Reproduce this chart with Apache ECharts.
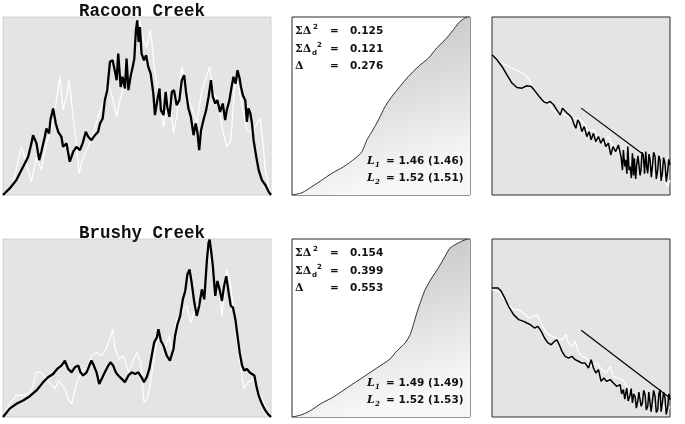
<!DOCTYPE html>
<html><head><meta charset="utf-8">
<script src="https://cdn.jsdelivr.net/npm/echarts@6/dist/echarts.min.js"></script>
<style>html,body{margin:0;padding:0;background:#fff}#c{width:685px;height:424px}</style>
</head><body><div id="c"></div>
<script>
var titles = ['Racoon Creek', 'Brushy Creek'];

var racoonProfileWhite = [[0,0],[3.7,6.5],[6.9,27.1],[8.7,17.8],[10.6,7.5],[12.5,21.5],[14.3,14],[16.2,29],[18.1,38.3],[20,53.3],[21.2,66.4],[22.4,47.7],[23.7,55.1],[24.7,64.5],[25.9,47.7],[27.2,30.8],[28.4,12.1],[29.9,21.5],[31.8,27.1],[33.7,34.6],[35.5,43.9],[36.8,49.5],[38,55.1],[39.3,62.6],[41.1,53.3],[42.4,43.9],[43.6,53.3],[45.5,62.6],[46.8,58.9],[48,66.4],[49.3,79.4],[50.1,90.7],[51.1,98.1],[52.4,86.9],[53.6,83.2],[54.9,92.5],[55.5,86.9],[56.4,72],[57.4,62.6],[58.6,51.4],[59.9,38.3],[61.1,47.7],[62.3,53.3],[63.6,34.6],[64.8,43.9],[66.7,72],[68,64.5],[69.2,53.3],[70.4,49.5],[72.3,40.2],[74.2,58.9],[75.8,66.4],[77.1,72],[78.6,57],[80.4,53.3],[81.7,38.3],[83.5,27.1],[85,30.8],[86.7,66.4],[87.9,60.7],[89.5,47.7],[91,36.4],[92.9,34.6],[94.8,40.2],[96,43],[97,29],[97.9,14],[99.1,4.7],[100,0]];
var racoonProfileBlack = [[0,0],[2.5,3.7],[5,8.4],[7.5,15.9],[9.4,21.5],[10.6,29],[11.2,33.6],[12.5,29],[13.5,19.6],[14.3,24.3],[15.6,32.7],[16.2,37.4],[17.2,34.6],[17.7,42.1],[18.7,48.6],[19.7,40.2],[20.6,35.5],[21.8,32.7],[22.4,27.1],[23.7,29],[24.9,18.7],[26.2,24.3],[27.4,27.1],[28.7,25.2],[29.7,29],[30.9,35.5],[31.8,32.7],[33,30.8],[34.3,33.6],[35.5,35.5],[36.2,40.2],[37.2,43],[38,53.3],[38.9,58.9],[39.9,74.8],[40.9,75.7],[41.8,69.2],[42.4,64.5],[43,79.4],[43.9,60.7],[44.6,66.4],[45.5,59.8],[46.1,76.6],[46.8,58.9],[47.6,66.4],[48.4,72],[49,76.6],[49.6,92.5],[50.1,98.1],[50.6,86],[51.1,94.4],[51.7,79.4],[52.6,75.7],[53.4,78.5],[54.2,72],[55.1,68.2],[56.1,57],[56.7,44.9],[57.6,53.3],[58.4,59.8],[58.9,47.7],[59.9,44.9],[60.7,57.9],[61.3,49.5],[62.1,43.9],[63,57.9],[63.8,58.9],[64.8,50.5],[65.8,53.3],[66.7,64.5],[67.6,67.3],[68.3,57.9],[69.2,48.6],[70.1,43.9],[71.1,33.6],[71.9,40.2],[72.6,34.6],[73.2,25.2],[73.9,36.4],[74.8,42.1],[75.8,47.7],[76.7,55.1],[77.6,64.5],[78.3,55.1],[79.2,51.4],[80,53.3],[81,46.7],[82,51.4],[82.9,42.1],[83.5,47.7],[84.5,53.3],[85.4,61.7],[86,66.4],[86.8,62.6],[87.5,70.1],[88.3,65.4],[88.8,60.7],[89.5,56.1],[90.4,53.3],[91,41.1],[91.6,48.6],[92.3,45.8],[92.9,40.2],[93.5,30.8],[94.5,21.5],[95.4,14],[96.6,8.4],[97.9,5.6],[99.1,1.9],[100,0]];

var brushyProfileWhite = [[0,0],[2.5,7.4],[5,12.1],[8.1,12.1],[10.6,14.9],[12.5,25.1],[14.3,25.1],[16.2,21.4],[18.1,17.7],[19.3,15.8],[20.9,20.5],[23.1,15.8],[24.3,10.2],[25.6,7.4],[26.8,14.9],[28.1,21.4],[29.9,27],[31.4,27],[33,34.5],[34.9,36.3],[36.8,34.5],[38.4,38.2],[39.9,43.8],[40.9,49.3],[41.8,38.2],[43.4,32.6],[44.9,34.5],[46.8,25.1],[48,28.9],[49.9,36.3],[51.4,30.7],[52.6,8.4],[53.6,9.3],[54.9,17.7],[56.1,30.7],[57.4,41.9],[58.6,45.6],[59.9,38.2],[61.1,41.9],[62.1,45.6],[63,36.3],[63.6,41.9],[64.8,54.9],[66.1,56.8],[67.3,60.5],[68.6,62.4],[70.1,53.1],[71.7,60.5],[73.6,66.1],[75.1,68],[76.3,95.9],[77.3,90.3],[78.6,77.3],[79.6,69.8],[80.4,75.4],[81.7,56.8],[83.5,82.9],[84.8,75.4],[86,60.5],[87.3,41.9],[88.8,27],[89.8,15.8],[91.6,19.6],[93.3,21.4],[94.8,15.8],[96.6,10.2],[98.5,3.7],[100,0]];
var brushyProfileBlack = [[0,0],[2.5,4.7],[5,7.4],[7.5,9.3],[10,11.7],[12.5,14.9],[15,19.6],[16.8,22.3],[18.7,24.2],[20.2,27],[21.8,28.9],[23.1,31.7],[24.3,27],[25.6,25.1],[26.8,27.9],[28.1,28.9],[28.9,25.1],[29.9,23.3],[31.2,25.1],[32.2,28.9],[33,31.7],[33.9,28.9],[34.9,25.1],[35.9,18.6],[36.8,21.4],[38,25.1],[39.3,28.9],[40.1,30.7],[41.1,28.9],[42.1,25.1],[43,23.3],[44.3,21.4],[45.5,19.6],[46.8,23.3],[48,25.1],[49.3,24.2],[50.5,25.1],[51.7,22.3],[52.6,19.6],[53.6,22.3],[54.6,27],[55.5,34.5],[56.4,41.9],[57.4,44.7],[58,49.3],[58.9,42.8],[59.9,40],[61.1,34.5],[62.3,31.7],[63,30.7],[63.6,38.2],[64.2,45.6],[65.1,52.1],[66.1,56.8],[67.1,66.1],[68,70.8],[68.8,80.1],[69.6,82.9],[70.4,75.4],[71.3,65.2],[72.3,56.8],[73.2,62.4],[74.2,71.7],[75.1,66.1],[76.1,88.5],[76.7,97.8],[77.1,99.6],[77.6,94],[78.3,84.7],[79.2,68],[80,76.4],[80.8,71.7],[81.7,65.2],[82.5,73.6],[83.3,79.1],[84.2,69.8],[85,62.4],[85.8,61.5],[86.7,54.9],[87.5,45.6],[88.3,36.3],[89.2,28.9],[90,26.1],[91,27],[92,25.1],[92.9,24.2],[93.8,23.3],[94.5,17.7],[95.4,12.1],[96.6,7.4],[97.9,3.7],[99.1,1.3],[100,0]];

var racoonCumulative = [[0,0],[5.6,1.3],[11.2,4.7],[16.8,8.4],[22.4,12.2],[29,15.9],[35.5,20.6],[39.3,24.4],[42.1,31],[44.9,35.6],[48.6,42.2],[52.3,49.7],[56.1,55.3],[60.7,61],[65.4,66.6],[71,72.2],[76.6,76.9],[81.3,82.6],[86,87.2],[90.7,92.9],[93.5,96.6],[96.3,98.9],[99.1,100],[100,100]];
var brushyCumulative = [[0,0],[5.6,1.3],[11.2,4.1],[16.8,7.9],[22.4,10.7],[28,14.4],[33.6,18.2],[39.3,21.9],[44.9,25.7],[50.5,29.4],[55.1,32.6],[57.9,36],[60.7,38.8],[63.6,41.6],[66.4,46.3],[68.2,51.9],[70.1,58.4],[72,64],[74.8,71.5],[78.5,78.1],[82.2,83.7],[86,90.3],[88.8,94.9],[91.6,96.8],[95.3,98.7],[98.1,99.8],[100,100]];

var racoonSpectrumWhite = [[0,78.8],[3.7,75],[7.5,73.2],[11.2,71.3],[15,69.4],[18.7,67.5],[21.5,63.8],[23.4,59.1],[26.2,55.3],[29,53.5],[31.8,51.6],[33.6,48.8],[36.4,46],[39.3,46],[43,44.1],[45.8,43.2],[48.6,43.2],[51.4,40.3],[54.2,35.6],[57,36.6],[59.8,31],[62.6,29.1],[65.4,32.8],[68.2,27.2],[71,24.4],[73.8,21.6],[76.6,19.7],[79.4,17.8],[82.2,15.9],[85,15],[87.9,13.1],[90.7,12.2],[93.5,8.4],[96.3,10.3],[98.7,4.7],[100,8.4]];
var racoonSpectrumBlack = [[0,78.8],[2.8,76],[5.6,72.2],[8.4,67.5],[11.2,62.9],[14,60.4],[16.8,60],[19.6,61.4],[22.1,61],[24.3,58.2],[26.5,55.3],[29,52.5],[30.8,51.6],[32.7,52.5],[34.6,50.7],[36.4,47.8],[38.3,45],[39.6,48.8],[40.7,49.7],[42.1,46],[43.4,45],[44.9,43.2],[46.2,39.4],[47.1,37.5],[48.2,42.2],[49.3,40.3],[50.5,35.6],[51.8,38.5],[53.3,32.8],[54.6,35.6],[55.7,31],[57,34.7],[58.3,30],[59.8,32.8],[61.1,29.1],[62.6,31.9],[63.9,27.2],[65.4,29.1],[66.7,22.5],[68,27.2],[69.5,24.4],[71,28.1],[72.5,21.6],[73.3,14],[73.8,25.3],[74.6,16],[75.1,19.7],[75.8,12],[76.3,27.2],[77,14],[77.6,15.9],[78.3,9.5],[78.9,23.5],[79.5,11],[80,20.6],[80.7,9],[81.3,16.9],[82,22],[82.6,21.6],[83.2,11],[83.7,14.1],[84.3,24],[85,22.5],[85.7,12],[86.4,24.4],[87,15],[87.5,12.2],[88.2,23],[88.8,19.7],[89.5,10],[90.1,15.9],[90.8,24],[91.6,21.6],[92.3,9],[93.1,14.1],[93.7,22],[94.4,19.7],[95,8],[95.7,12.2],[96.4,21],[97.2,17.8],[97.9,7.5],[98.7,13.1],[99.3,20],[100,16.9]];
var racoonFit = [[50.1,48.8],[84.1,23.5]];

var brushySpectrumWhite = [[0,71.5],[3.7,70.6],[6.5,66.9],[9.3,63.1],[12.1,60.3],[15,60.3],[17.8,58.4],[20.6,55.6],[23.4,56.6],[25.2,57.5],[26.5,55.6],[28.4,50.9],[30.8,47.2],[33.6,45.3],[36.4,44.4],[39.3,43.4],[41.5,46.3],[43,41.6],[44.9,39.7],[46.7,42.5],[48.6,36],[50.5,34.1],[53.3,33.1],[56.1,28.5],[58.9,30.3],[61.7,26.6],[63.9,24.7],[66.4,28.5],[68.2,22.8],[70.7,21.9],[73.3,21],[75.7,17.2],[78.5,14.4],[81.3,11.6],[84.1,11.6],[86.9,9.7],[89.7,7.9],[92.5,6],[95.3,8.8],[98.1,2.2],[100,6]];
var brushySpectrumBlack = [[0,72.5],[3.4,72.5],[5.2,70.6],[7.1,66.9],[9.3,62.2],[12.1,57.5],[15,54.7],[17.8,53.7],[19.6,52.8],[21.5,51.9],[23.9,50],[25.8,50.9],[27.7,48.1],[29.5,44.4],[31.4,41.6],[33.3,40.6],[35.1,42.5],[36.4,43.4],[37.8,40.6],[39.3,36.9],[41.1,34.1],[43,33.1],[44.9,34.1],[46.7,32.2],[48.6,31.3],[50.5,30.3],[52.3,30.3],[54.2,27.5],[55.7,32.2],[57,27.5],[58.3,24.7],[59.8,26.6],[61.3,20],[62.8,21.9],[64.5,20],[66.4,21],[68.2,19.1],[70.1,17.2],[72,18.2],[72.8,13],[73.8,15.4],[74.6,10],[75.7,16.3],[76.5,9],[77.6,12.5],[78.2,16],[78.9,7.9],[79.6,13],[80.4,11.6],[81.1,5],[81.9,8.8],[82.5,14],[83.2,13.5],[83.8,6],[84.5,7.9],[85.2,15],[86,12.5],[86.7,4],[87.5,6],[88.1,14],[88.8,14.4],[89.4,3],[90.1,8.8],[90.8,15],[91.6,11.6],[92.3,2.5],[93.1,4.1],[93.7,13],[94.4,15.4],[95,3],[95.7,7.9],[96.4,14],[97.2,10.7],[97.9,1.5],[98.7,5.1],[99.3,13],[100,9.7]];
var brushyFit = [[50.1,48.7],[100,10.7]];

var racoonStats = ['0.125', '0.121', '0.276'];
var racoonL = ['1.46 (1.46)', '1.52 (1.51)'];
var brushyStats = ['0.154', '0.399', '0.553'];
var brushyL = ['1.49 (1.49)', '1.52 (1.53)'];

var chart = echarts.init(document.getElementById('c'), null, {renderer: 'canvas'});

var rowTop = [17, 239];
var colLeft = [3, 292, 492];
var colWidth = [268, 178, 178];
var rowHeight = [178, 178];
var grids = [], xAxes = [], yAxes = [], series = [];
for (var r = 0; r < 2; r++) {
  for (var c = 0; c < 3; c++) {
    var bg = c === 1 ? '#ffffff' : '#e4e4e4';
    grids.push({left: colLeft[c], top: rowTop[r], width: colWidth[c], height: rowHeight[r],
      show: true, backgroundColor: bg,
      borderColor: c === 0 ? '#d2d2d2' : '#2a2a2a', borderWidth: 1, containLabel: false});
    xAxes.push({type: 'value', gridIndex: grids.length - 1, min: 0, max: 100, show: false});
    yAxes.push({type: 'value', gridIndex: grids.length - 1, min: 0, max: 100, show: false});
  }
}
function line(idx, data, color, width, z) {
  series.push({type: 'line', xAxisIndex: idx, yAxisIndex: idx, data: data, showSymbol: false,
    symbol: 'none', lineStyle: {color: color, width: width}, z: z, animation: false, silent: true});
}
line(0, racoonProfileWhite, '#ffffff', 1.2, 2);
line(0, racoonProfileBlack, '#000000', 2.3, 3);
line(3, brushyProfileWhite, '#ffffff', 1.2, 2);
line(3, brushyProfileBlack, '#000000', 2.3, 3);
[[1, racoonCumulative], [4, brushyCumulative]].forEach(function (p) {
  series.push({type: 'line', xAxisIndex: p[0], yAxisIndex: p[0], data: p[1], showSymbol: false, symbol: 'none',
    smooth: 0.3, lineStyle: {color: '#333333', width: 1}, animation: false, silent: true,
    areaStyle: {opacity: 1, color: new echarts.graphic.LinearGradient(0, 0, 0.3, 1, [
      {offset: 0, color: '#bdbdbd'}, {offset: 0.5, color: '#d9d9d9'}, {offset: 1, color: '#f7f7f7'}])}});
});
line(2, racoonSpectrumWhite, '#ffffff', 1.2, 2);
line(2, racoonSpectrumBlack, '#000000', 1.5, 3);
line(2, racoonFit, '#000000', 1.2, 4);
line(5, brushySpectrumWhite, '#ffffff', 1.2, 2);
line(5, brushySpectrumBlack, '#000000', 1.5, 3);
line(5, brushyFit, '#000000', 1.2, 4);

var graphics = [];
function txt(x, y, s, font, extra) {
  var st = {text: s, x: x, y: y, font: font, fill: '#111111', align: 'left', verticalAlign: 'middle',
    textAlign: 'left', textVerticalAlign: 'middle'};
  if (extra) for (var k in extra) st[k] = extra[k];
  graphics.push({type: 'text', style: st, z: 100});
}
var F = 'bold 10.5px "DejaVu Sans"';
var FS = 'bold 7px "DejaVu Sans"';
function statsBlock(top, stats, Ls) {
  var y1 = top + 14.5, y2 = top + 32, y3 = top + 49.5;
  txt(295, y1, 'ΣΔ', 'bold 11px "DejaVu Serif"');
  txt(313, y1 - 4, '2', FS);
  txt(330, y1, '=', F);
  txt(350, y1, stats[0], F);
  txt(295, y2, 'ΣΔ', 'bold 11px "DejaVu Serif"');
  txt(312, y2 + 4, 'd', FS);
  txt(317, y2 - 4, '2', FS);
  txt(330, y2, '=', F);
  txt(350, y2, stats[1], F);
  txt(295, y3, 'Δ', 'bold 11px "DejaVu Serif"');
  txt(330, y3, '=', F);
  txt(350, y3, stats[2], F);
  var l1 = top + 144.5, l2 = top + 161.5;
  txt(367, l1, 'L', 'italic bold 11px "DejaVu Serif"');
  txt(375, l1 + 4, '1', 'italic bold 7px "DejaVu Serif"');
  txt(386, l1, '= ' + Ls[0], F);
  txt(367, l2, 'L', 'italic bold 11px "DejaVu Serif"');
  txt(375, l2 + 4, '2', 'italic bold 7px "DejaVu Serif"');
  txt(386, l2, '= ' + Ls[1], F);
}
statsBlock(rowTop[0], racoonStats, racoonL);
statsBlock(rowTop[1], brushyStats, brushyL);

chart.setOption({
  animation: false,
  backgroundColor: '#ffffff',
  title: [
    {text: titles[0], left: 137, top: 7, textAlign: 'center', textVerticalAlign: 'middle',
      textStyle: {fontFamily: '"Liberation Mono"', fontSize: 17.5, fontWeight: 'bold', color: '#111'}},
    {text: titles[1], left: 137, top: 229, textAlign: 'center', textVerticalAlign: 'middle',
      textStyle: {fontFamily: '"Liberation Mono"', fontSize: 17.5, fontWeight: 'bold', color: '#111'}}
  ],
  grid: grids, xAxis: xAxes, yAxis: yAxes, series: series, graphic: graphics
});
</script></body></html>
